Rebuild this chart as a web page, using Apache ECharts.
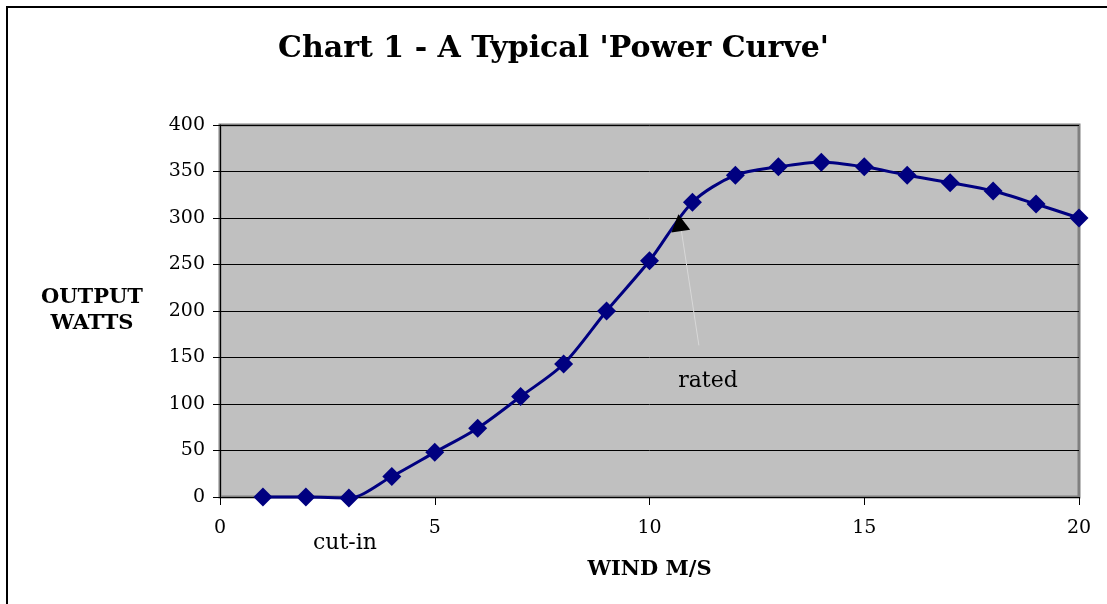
<!DOCTYPE html>
<html>
<head>
  <meta charset="utf-8">
  <title>Power Curve</title>
  <script src="https://cdn.jsdelivr.net/npm/echarts@6.0.0/dist/echarts.min.js"></script>
  <style>
    html, body { margin: 0; padding: 0; background: #fff; }
    #chart { width: 1107px; height: 604px; }
  </style>
</head>
<body>
<div id="chart"></div>
<script>
// wind speed (m/s) and output (watts)
var windSpeed = [1, 2, 3, 4, 5, 6, 7, 8, 9, 10, 11, 12, 13, 14, 15, 16, 17, 18, 19, 20];
var outputWatts = [0, 0, -1, 22, 48, 74, 108, 143, 200, 254, 317, 346, 355, 360, 355, 346, 338, 329, 315, 300];

// "rated" pointer: from the label up to the curve
var ratedFrom = [11.15, 163];
var ratedTo = [10.72, 293];

var serif = '"DejaVu Serif", "Liberation Serif", serif';

var myChart = echarts.init(document.getElementById("chart"));
var option = {
    backgroundColor: "#fff",
    animation: false,
    title: {
        text: "Chart 1 - A Typical 'Power Curve'",
        left: "center",
        top: 29,
        textStyle: {
            fontFamily: serif,
            fontSize: 30,
            fontWeight: "bold",
            color: "#000"
        }
    },
    grid: {
        left: 220,
        right: 28,
        top: 125,
        bottom: 107,
        show: true,
        backgroundColor: "#c0c0c0",
        borderColor: "#808080",
        borderWidth: 3
    },
    xAxis: {
        type: "value",
        min: 0,
        max: 20,
        interval: 5,
        name: "WIND M/S",
        nameLocation: "middle",
        nameGap: 62,
        nameTextStyle: {
            fontFamily: serif,
            fontSize: 21,
            fontWeight: "bold",
            color: "#000"
        },
        axisLine: { lineStyle: { color: "#000", width: 1 } },
        axisTick: { show: true, inside: false, length: 8, lineStyle: { color: "#000" } },
        axisLabel: {
            margin: 22,
            fontFamily: serif,
            fontSize: 19,
            color: "#000"
        },
        splitLine: { show: false }
    },
    yAxis: {
        type: "value",
        min: 0,
        max: 400,
        interval: 50,
        name: "OUTPUT\nWATTS",
        nameLocation: "middle",
        nameRotate: 0,
        nameGap: 128,
        nameTextStyle: {
            fontFamily: serif,
            fontSize: 21,
            fontWeight: "bold",
            color: "#000",
            align: "center",
            lineHeight: 26
        },
        axisLine: { show: true, lineStyle: { color: "#000", width: 1 } },
        axisTick: { show: true, inside: false, length: 7, lineStyle: { color: "#000" } },
        axisLabel: {
            margin: 15,
            fontFamily: serif,
            fontSize: 19,
            color: "#000"
        },
        splitLine: { show: true, lineStyle: { color: "#000", width: 1 } }
    },
    series: [{
        type: "line",
        data: windSpeed.map(function(x, i) { return [x, outputWatts[i]]; }),
        smooth: 0.3,
        clip: false,
        symbol: "diamond",
        symbolSize: 19,
        itemStyle: { color: "#000080" },
        lineStyle: { color: "#000080", width: 3 },
        markLine: {
            silent: true,
            symbol: ["none", "none"],
            label: { show: false },
            lineStyle: { color: "#d8d8d8", width: 1, type: "solid" },
            data: [[{ coord: ratedFrom }, { coord: ratedTo }]]
        },
        markPoint: {
            silent: true,
            symbol: "triangle",
            symbolSize: [19, 17],
            symbolRotate: 8,
            itemStyle: { color: "#000" },
            label: { show: false },
            data: [{ coord: [ratedTo[0] - 0.02, ratedTo[1] + 2] }]
        }
    }],
    graphic: [
        {
            type: "polyline",
            shape: { points: [[7, 604], [7, 7], [1107, 7]] },
            style: { stroke: "#000", lineWidth: 2, fill: null }
        },
        {
            type: "text",
            x: 345, y: 543,
            style: {
                text: "cut-in",
                fontFamily: serif,
                fontSize: 22,
                fill: "#000",
                align: "center",
                verticalAlign: "middle"
            }
        },
        {
            type: "text",
            x: 708, y: 381,
            style: {
                text: "rated",
                fontFamily: serif,
                fontSize: 22,
                fill: "#000",
                align: "center",
                verticalAlign: "middle"
            }
        }
    ]
};
myChart.setOption(option);
</script>
</body>
</html>
